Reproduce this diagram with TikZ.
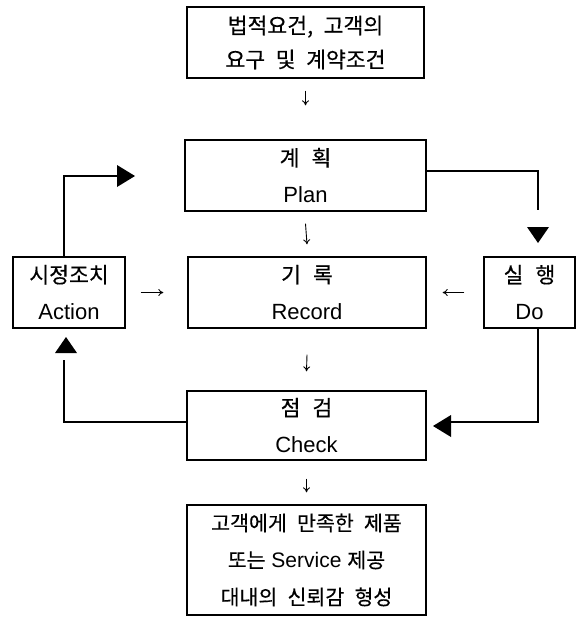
\documentclass[tikz,border=0pt]{standalone}
\usepackage{fontspec}
\setmainfont{Liberation Sans}
\newfontfamily\kr[Scale=0.98,WordSpace=1.2,FakeBold=0.4]{Noto Sans CJK KR}
\newfontfamily\krw[Scale=0.98,WordSpace=2.2,FakeBold=0.4]{Noto Sans CJK KR}
\usetikzlibrary{arrows.meta}
\begin{document}
\begin{tikzpicture}[x=1pt,y=-1pt,
  box/.style={draw, line width=1.3pt, inner sep=0pt, align=center,
    font=\fontsize{22}{37}\selectfont},
  thinarrow/.style={line width=0.9pt, -{To[length=5pt,width=7pt]}},
  conn/.style={line width=1.3pt},
  head/.style={fill=black}]
\useasboundingbox (0,0) rectangle (577,619);

\node[box, minimum width=237pt, minimum height=71pt,
      font=\fontsize{22}{34}\selectfont] (req) at (305.5,42.5)
  {{\kr 법적요건, 고객의}\\{\kr 요구 및 계약조건}};
\node[box, minimum width=241pt, minimum height=71pt] (plan) at (305.5,175.5)
  {{\kr 계\hspace{12pt}획}\\Plan};
\node[box, minimum width=238pt, minimum height=71pt] (record) at (307,292.5)
  {{\kr 기\hspace{12pt}록}\\Record};
\node[box, minimum width=112pt, minimum height=71pt] (action) at (69,292.5)
  {{\kr 시정조치}\\Action};
\node[box, minimum width=91pt, minimum height=71pt] (do) at (529.5,292.5)
  {{\kr 실\hspace{12pt}행}\\Do};
\node[box, minimum width=239pt, minimum height=69pt] (check) at (306.5,425.5)
  {{\kr 점\hspace{12pt}검}\\Check};
\node[box, minimum width=239pt, minimum height=110pt,
      font=\fontsize{21}{37}\selectfont] (result) at (306.5,560)
  {{\krw 고객에게 만족한 제품}\\{\krw 또는} Service {\krw 제공}\\{\krw 대내의 신뢰감 형성}};

% thin arrows
\draw[thinarrow] ([yshift=-12pt]req.south) -- ([yshift=34pt]plan.north);
\draw[thinarrow] ([yshift=-12pt]plan.south) -- ([yshift=12pt]record.north);
\draw[thinarrow] ([yshift=-26pt]record.south) -- ([yshift=19pt]check.north);
\draw[thinarrow] ([yshift=-18pt]check.south) -- ([yshift=12pt]result.north);
\draw[thinarrow] ([xshift=15pt]action.east) -- ([xshift=-24pt]record.west);
\draw[thinarrow] ([xshift=-19pt]do.west) -- ([xshift=16pt]record.east);

% Action -> Plan
\coordinate (a1) at (64,176);
\coordinate (a2) at (117,176);
\draw[conn] (action.north -| a1) -- (a1) -- (a2);
\fill[head] (117,165) -- (135,176) -- (117,187) -- cycle;

% Plan -> Do
\coordinate (p1) at (538,171);
\coordinate (p2) at (538,210);
\draw[conn] (plan.east |- p1) -- (p1) -- (p2);
\fill[head] (527,227) -- (549,227) -- (538,243) -- cycle;

% Do -> Check
\coordinate (d1) at (538,422);
\coordinate (d2) at (451,422);
\draw[conn] (do.south -| d1) -- (d1) -- (d2);
\fill[head] (451,415) -- (451,437) -- (433,426) -- cycle;

% Check -> Action
\coordinate (c1) at (64,422);
\coordinate (c2) at (64,360);
\draw[conn] (check.west |- c1) -- (c1) -- (c2);
\fill[head] (55,353) -- (77,353) -- (66,337) -- cycle;
\end{tikzpicture}
\end{document}
